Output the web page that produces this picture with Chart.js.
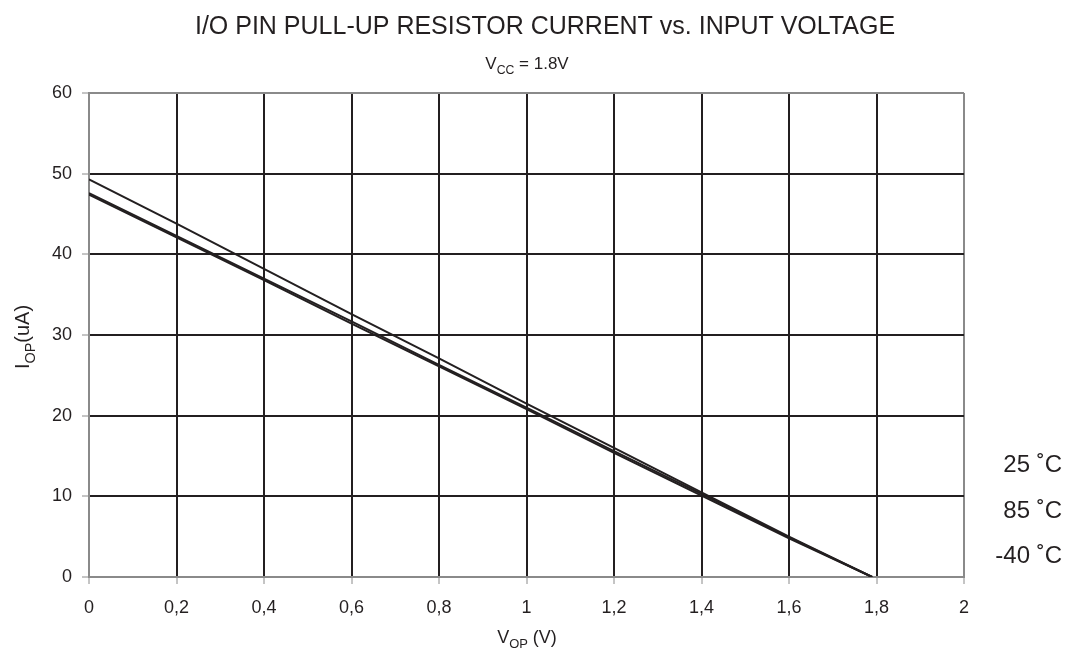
<!DOCTYPE html>
<html>
<head>
<meta charset="utf-8">
<script src="https://cdn.jsdelivr.net/npm/chart.js@4.4.1/dist/chart.umd.min.js"></script>
<style>
  body { margin: 0; background: #fff; }
  #wrap { width: 1081px; height: 659px; position: relative; }
</style>
</head>
<body>
<div id="wrap"><canvas id="mycanvas" width="1081" height="659"></canvas></div>
<script>
// input voltage (V)
var vop = [0, 0.2, 0.4, 0.6, 0.8, 1.0, 1.2, 1.4, 1.6, 1.79];
// pull-up current (uA)
var i25 = [49.3, 43.8, 38.2, 32.6, 27.1, 21.5, 16.0, 10.5, 5.0, 0];
var i85 = [47.6, 42.3, 37.0, 31.7, 26.3, 21.0, 15.6, 10.3, 4.9, 0];
var iM40 = [47.4, 42.1, 36.8, 31.4, 26.1, 20.8, 15.4, 10.1, 4.8, 0];
var seriesNames = ["25 ˚C", "85 ˚C", "-40 ˚C"];
var xTicks = [0, 0.2, 0.4, 0.6, 0.8, 1, 1.2, 1.4, 1.6, 1.8, 2];
var yTicks = [0, 10, 20, 30, 40, 50, 60];

function pts(ys) {
    var out = [];
    for (var i in vop) out.push({x: vop[i], y: ys[i]});
    return out;
}

var FONT = "Liberation Sans, Arial, sans-serif";
var INK = "#231f20";
var GRAY = "#8a8a8a";

// draws text with a subscript piece, e.g. V + OP + (V)
function subText(ctx, parts, x, y, size, align) {
    var w = 0, i;
    for (i = 0; i < parts.length; i++) {
        ctx.font = (parts[i].sub ? size * 0.72 : size) + "px " + FONT;
        w += ctx.measureText(parts[i].t).width;
    }
    var cx = align === "center" ? x - w / 2 : x;
    ctx.textAlign = "left";
    ctx.textBaseline = "alphabetic";
    for (i = 0; i < parts.length; i++) {
        ctx.font = (parts[i].sub ? size * 0.72 : size) + "px " + FONT;
        ctx.fillText(parts[i].t, cx, y + (parts[i].sub ? size * 0.28 : 0));
        cx += ctx.measureText(parts[i].t).width;
    }
}

var labelsPlugin = {
    id: "labels",
    afterDraw: function(chart) {
        var ctx = chart.ctx;
        ctx.save();
        ctx.fillStyle = INK;
        ctx.font = "25px " + FONT;
        ctx.textAlign = "center";
        ctx.textBaseline = "alphabetic";
        ctx.fillText("I/O PIN PULL-UP RESISTOR CURRENT vs. INPUT VOLTAGE", 545, 34);
        subText(ctx, [{t: "V"}, {t: "CC", sub: true}, {t: " = 1.8V"}], 527, 69, 17, "center");
        subText(ctx, [{t: "V"}, {t: "OP", sub: true}, {t: " (V)"}], 527, 643, 18, "center");
        ctx.translate(29, 337);
        ctx.rotate(-Math.PI / 2);
        subText(ctx, [{t: "I"}, {t: "OP", sub: true}, {t: "(uA)"}], 0, 0, 20, "center");
        ctx.restore();

        ctx.save();
        ctx.fillStyle = INK;
        ctx.font = "24px " + FONT;
        ctx.textAlign = "right";
        ctx.textBaseline = "middle";
        var ly = [465, 511, 556];
        for (var k = 0; k < seriesNames.length; k++) ctx.fillText(seriesNames[k], 1062, ly[k]);
        ctx.restore();
    }
};

function gridColor(c) {
    var v = c.tick ? c.tick.value : 0;
    var sc = c.scale;
    if (Math.abs(v - sc.min) < 1e-6 || Math.abs(v - sc.max) < 1e-6) return GRAY;
    return INK;
}

var chartdata = {
    datasets: [
        { label: seriesNames[0], data: pts(i25), borderColor: INK, borderWidth: 2, pointRadius: 0, fill: false, tension: 0 },
        { label: seriesNames[1], data: pts(i85), borderColor: INK, borderWidth: 2, pointRadius: 0, fill: false, tension: 0 },
        { label: seriesNames[2], data: pts(iM40), borderColor: INK, borderWidth: 2, pointRadius: 0, fill: false, tension: 0 }
    ]
};

var ctx = document.getElementById("mycanvas");
var LineGraph = new Chart(ctx, {
    type: "line",
    data: chartdata,
    plugins: [labelsPlugin],
    options: {
        responsive: false,
        animation: false,
        layout: { padding: { top: 93, right: 117, left: 0, bottom: 0 } },
        plugins: { legend: { display: false }, tooltip: { enabled: false } },
        scales: {
            x: {
                type: "linear",
                min: 0, max: 2,
                afterBuildTicks: function(s) { s.ticks = xTicks.map(function(v) { return {value: v}; }); },
                afterFit: function(s) { s.height = 659 - 577; },
                ticks: {
                    color: INK,
                    font: { size: 18, family: FONT },
                    padding: 13,
                    callback: function(v) { return String(v).replace(".", ","); }
                },
                grid: { color: gridColor, lineWidth: 2, tickLength: 7, tickColor: GRAY, tickWidth: 1 },
                border: { color: GRAY, width: 2 }
            },
            y: {
                type: "linear",
                min: 0, max: 60,
                afterBuildTicks: function(s) { s.ticks = yTicks.map(function(v) { return {value: v}; }); },
                afterFit: function(s) { s.width = 89; },
                ticks: {
                    color: INK,
                    font: { size: 18, family: FONT },
                    padding: 10
                },
                grid: { color: gridColor, lineWidth: 2, tickLength: 7, tickColor: GRAY, tickWidth: 1 },
                border: { color: GRAY, width: 2 }
            }
        }
    }
});
</script>
</body>
</html>
